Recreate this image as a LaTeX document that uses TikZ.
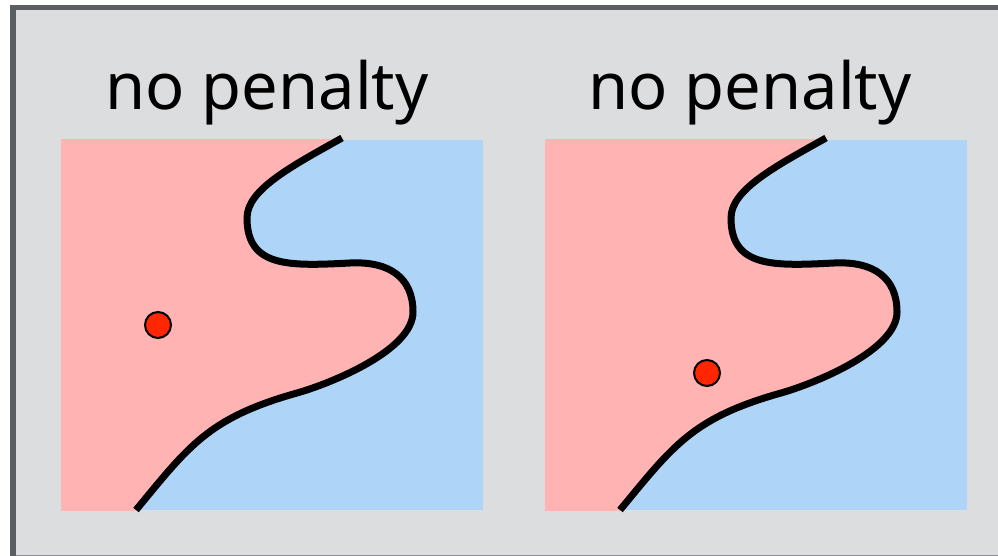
\documentclass[tikz,border=0pt]{standalone}
\usepackage{fontspec}
\setmainfont{Noto Sans}
\definecolor{bggray}{HTML}{DCDDDF}
\definecolor{framegray}{HTML}{5B5E62}
\definecolor{edgegray}{HTML}{8E8F92}
\definecolor{pinkreg}{HTML}{FFB3B3}
\definecolor{bluereg}{HTML}{AED4F8}
\definecolor{dotred}{HTML}{FF2600}
\tikzset{
  boundary/.style={line width=7pt, black, line cap=butt},
  datapoint/.style={circle, draw=black, line width=2pt, fill=dotred, minimum size=26pt, inner sep=0pt},
  title/.style={anchor=base, font=\fontsize{65}{70}\selectfont, inner sep=0pt},
}
\newcommand{\bcurve}{(342,138) .. controls (290,167) and (247,190) .. (247,218)
  .. controls (247,268) and (290,266) .. (350,263)
  .. controls (390,261) and (413,278) .. (413,312)
  .. controls (413,350) and (332,383) .. (297,393)
  .. controls (208,418) and (189,446) .. (136,510)}
\begin{document}
\begin{tikzpicture}[x=1pt,y=-1pt]
\useasboundingbox (0,0) rectangle (998,556);
\fill[white] (0,0) rectangle (998,556);
\fill[framegray] (10,5) rectangle (998,556);
\fill[bggray] (16,10) rectangle (998,555);
\fill[edgegray] (16,555) rectangle (998,556);
\foreach \dx/\nm in {0/L,484/R}{
  \begin{scope}[xshift=\dx pt]
    \begin{scope}
      \clip (61,140) rectangle (483,510);
      \fill[bluereg] (61,140) rectangle (483,510);
      \fill[pinkreg] (55,130) -- (342,130) -- \bcurve -- (120,520) -- (55,520) -- cycle;
    \end{scope}
    \draw[boundary] \bcurve;
  \end{scope}
}
\node[title] (tl) at (267,110) {no penalty};
\node[title] (tr) at (750,110) {no penalty};
\node[datapoint] (dl) at (158,325) {};
\node[datapoint] (dr) at (707,373) {};
\end{tikzpicture}
\end{document}
